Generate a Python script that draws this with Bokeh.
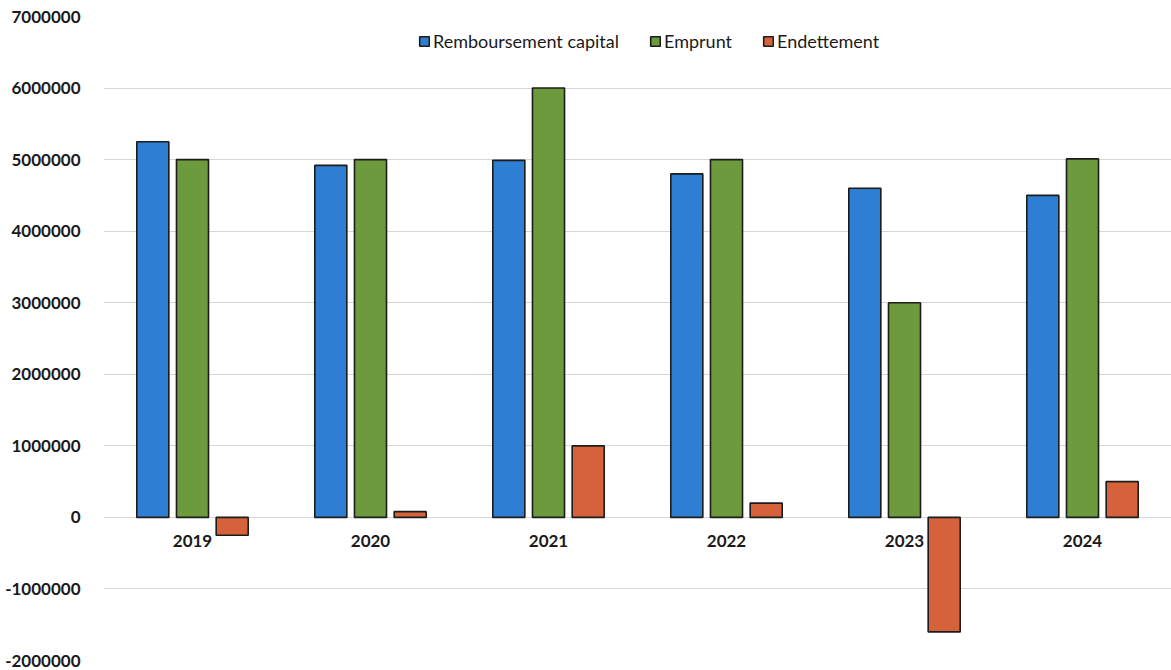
from bokeh.plotting import figure
from bokeh.models import (ColumnDataSource, FactorRange, Range1d, FixedTicker,
                          NumeralTickFormatter, Legend, LegendItem)
from bokeh.transform import dodge
from bokeh.core.properties import value
from bokeh.embed import file_html
from bokeh.resources import INLINE

years = ["2019", "2020", "2021", "2022", "2023", "2024"]
remboursement = [5250000, 4920000, 4990000, 4800000, 4600000, 4500000]
emprunt = [5000000, 5000000, 6000000, 5000000, 3000000, 5010000]
endettement = [-250000, 80000, 1000000, 200000, -1600000, 500000]
y_ticks = [-2000000, -1000000, 0, 1000000, 2000000, 3000000, 4000000, 5000000, 6000000, 7000000]

src = ColumnDataSource(dict(years=years, remb=remboursement, emp=emprunt, endt=endettement,
                            zero=[0] * len(years)))

FONT = "Lato"
BLUE = "#2E7ED3"
GREEN = "#6C9A3C"
ORANGE = "#D5623A"
OUTLINE = "#1c1c1c"

p = figure(x_range=FactorRange(factors=years, range_padding=0),
           y_range=Range1d(-2000000, 7000000),
           width=1171, height=669, output_backend="svg", toolbar_location=None,
           min_border_left=103, min_border_right=0, min_border_top=16, min_border_bottom=9)

bw = 0.18
off = 0.223
r1 = p.vbar(x=dodge("years", -off, range=p.x_range), top="remb", bottom=0, width=bw, source=src,
            fill_color=BLUE, line_color=OUTLINE, line_width=1.6)
r2 = p.vbar(x=dodge("years", 0, range=p.x_range), top="emp", bottom=0, width=bw, source=src,
            fill_color=GREEN, line_color=OUTLINE, line_width=1.6)
r3 = p.vbar(x=dodge("years", off, range=p.x_range), top="endt", bottom=0, width=bw, source=src,
            fill_color=ORANGE, line_color=OUTLINE, line_width=1.6)

# category labels next to the zero line
p.text(x="years", y="zero", text="years", source=src, text_align="center",
       text_baseline="middle", y_offset=24, text_font=value(FONT),
       text_font_style="bold", text_font_size="17px", text_color="#1a1a1a")

p.xaxis.visible = False
p.xgrid.visible = False

p.yaxis.ticker = FixedTicker(ticks=y_ticks)
p.yaxis.formatter = NumeralTickFormatter(format="0")
p.yaxis.axis_line_color = None
p.yaxis.major_tick_line_color = None
p.yaxis.minor_tick_line_color = None
p.yaxis.major_label_text_font = FONT
p.yaxis.major_label_text_font_style = "bold"
p.yaxis.major_label_text_font_size = "17px"
p.yaxis.major_label_text_color = "#1a1a1a"
p.yaxis.major_label_standoff = 17

p.ygrid.ticker = FixedTicker(ticks=y_ticks)
p.ygrid.grid_line_color = "#d6d6d6"
p.ygrid.grid_line_width = 1

p.outline_line_color = None
p.background_fill_color = "white"
p.border_fill_color = "white"

legend = Legend(items=[LegendItem(label="Remboursement capital", renderers=[r1]),
                       LegendItem(label="Emprunt", renderers=[r2]),
                       LegendItem(label="Endettement", renderers=[r3])],
                orientation="horizontal", location=(315, 608),
                padding=0, margin=0, spacing=30, label_standoff=3,
                glyph_width=12, glyph_height=12, label_height=18,
                label_text_font=FONT, label_text_font_size="18px", label_text_color="#1a1a1a",
                border_line_alpha=0, background_fill_alpha=0)
p.add_layout(legend, "center")

open("out.html", "w").write(file_html(p, INLINE))
